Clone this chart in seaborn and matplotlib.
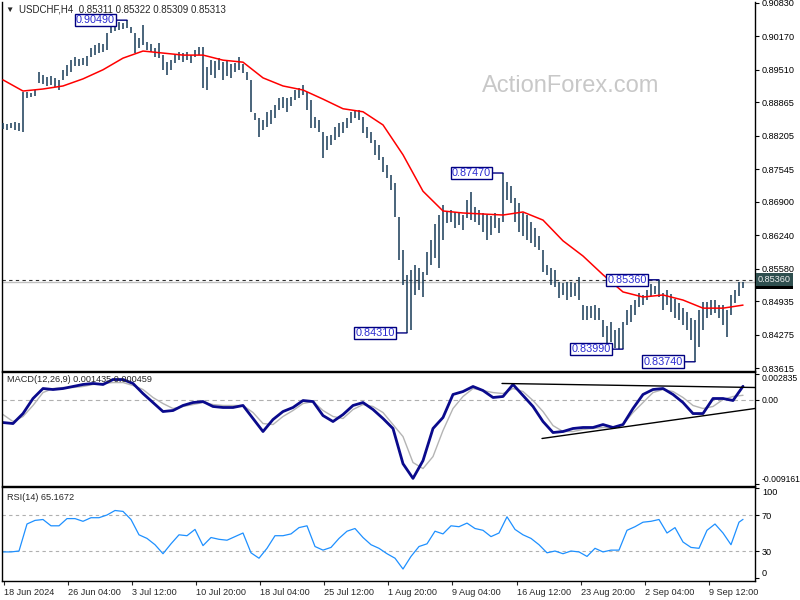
import numpy as np
import pandas as pd
import matplotlib
matplotlib.use("Agg")
import matplotlib.pyplot as plt
import matplotlib.transforms as mtransforms
import seaborn as sns

sns.set_style("white")
plt.rcParams['font.family'] = ['Liberation Sans', 'DejaVu Sans']

symbol = "USDCHF,H4"
last_ohlc = [0.85311, 0.85322, 0.85309, 0.85313]

# H4 bars (every second bar, high / low)
bar_high = [0.8846, 0.8844, 0.8846, 0.8848, 0.8846, 0.8907, 0.8907, 0.8905, 0.8911,
            0.8947, 0.8941, 0.8937, 0.8939, 0.8935, 0.8931, 0.8951, 0.8960, 0.8970, 0.8976,
            0.8972, 0.8974, 0.8978, 0.8994, 0.9000, 0.9004, 0.9002, 0.9024, 0.9040, 0.9043,
            0.9045, 0.9043, 0.9049, 0.9036, 0.9024, 0.9014, 0.9040, 0.9006, 0.9002, 0.8994,
            # 158 .. 302
            0.9004, 0.8980, 0.8966, 0.8970, 0.8980, 0.8986, 0.8984, 0.8986, 0.8980, 0.8990,
            0.8996, 0.8996, 0.8957, 0.8970, 0.8968, 0.8974, 0.8966, 0.8970, 0.8962, 0.8964,
            0.8976, 0.8962, 0.8947, 0.8931, 0.8866, 0.8856, 0.8852, 0.8868, 0.8872, 0.8881,
            0.8895, 0.8897, 0.8895, 0.8897, 0.8911, 0.8915, 0.8921,
            # 306 .. 450
            0.8907, 0.8891, 0.8858, 0.8852, 0.8828, 0.8820, 0.8822, 0.8838, 0.8846, 0.8848,
            0.8856, 0.8868, 0.8872, 0.8872, 0.8858, 0.8838, 0.8828, 0.8812, 0.8802, 0.8779,
            0.8763, 0.8743, 0.8727, 0.8660, 0.8595, 0.8546, 0.8555, 0.8565, 0.8559, 0.8551,
            0.8591, 0.8615, 0.8646, 0.8664, 0.8684, 0.8670, 0.8674,
            # 454 .. 602
            0.8670, 0.8668, 0.8664, 0.8694, 0.8710, 0.8680, 0.8674, 0.8668, 0.8664, 0.8662,
            0.8668, 0.8658, 0.8747, 0.8729, 0.8721, 0.8698, 0.8688, 0.8668, 0.8664, 0.8650,
            0.8638, 0.8623, 0.8595, 0.8565, 0.8559, 0.8555, 0.8532, 0.8530, 0.8532, 0.8532,
            0.8530, 0.8542, 0.8486, 0.8484, 0.8484, 0.8486, 0.8480, 0.8457,
            # 606 .. 742
            0.8445, 0.8453, 0.8437, 0.8441, 0.8453, 0.8476, 0.8486, 0.8496, 0.8510, 0.8506,
            0.8516, 0.8528, 0.8524, 0.8536, 0.8510, 0.8516, 0.8508, 0.8498, 0.8490, 0.8480,
            0.8472, 0.8461, 0.8457, 0.8476, 0.8492, 0.8492, 0.8496, 0.8496, 0.8486, 0.8486,
            0.8476, 0.8506, 0.8516, 0.8532, 0.8532]
bar_low = [0.8834, 0.8832, 0.8836, 0.8832, 0.8830, 0.8828, 0.8895, 0.8897, 0.8899,
           0.8925, 0.8923, 0.8919, 0.8921, 0.8917, 0.8911, 0.8931, 0.8939, 0.8947, 0.8959,
           0.8959, 0.8961, 0.8959, 0.8976, 0.8980, 0.8984, 0.8986, 0.8990, 0.9024, 0.9028,
           0.9030, 0.9032, 0.9034, 0.9024, 0.8984, 0.8994, 0.9000, 0.8990, 0.8986, 0.8976,
           0.8974, 0.8951, 0.8941, 0.8951, 0.8964, 0.8970, 0.8966, 0.8970, 0.8964, 0.8976,
           0.8980, 0.8915, 0.8911, 0.8941, 0.8935, 0.8951, 0.8931, 0.8939, 0.8935, 0.8947,
           0.8951, 0.8945, 0.8931, 0.8868, 0.8852, 0.8818, 0.8832, 0.8838, 0.8844, 0.8856,
           0.8872, 0.8876, 0.8868, 0.8879, 0.8891, 0.8895, 0.8901,
           0.8872, 0.8836, 0.8836, 0.8828, 0.8777, 0.8793, 0.8802, 0.8812, 0.8818, 0.8826,
           0.8836, 0.8846, 0.8856, 0.8852, 0.8826, 0.8816, 0.8806, 0.8783, 0.8773, 0.8749,
           0.8737, 0.8714, 0.8660, 0.8575, 0.8526, 0.8431, 0.8437, 0.8506, 0.8516, 0.8502,
           0.8546, 0.8565, 0.8579, 0.8559, 0.8615, 0.8648, 0.8650,
           0.8638, 0.8644, 0.8634, 0.8658, 0.8654, 0.8650, 0.8644, 0.8630, 0.8615, 0.8625,
           0.8638, 0.8628, 0.8650, 0.8694, 0.8688, 0.8650, 0.8630, 0.8623, 0.8615, 0.8609,
           0.8601, 0.8595, 0.8551, 0.8546, 0.8526, 0.8522, 0.8500, 0.8506, 0.8496, 0.8502,
           0.8504, 0.8496, 0.8457, 0.8457, 0.8461, 0.8457, 0.8457, 0.8423,
           0.8407, 0.8413, 0.8401, 0.8399, 0.8399, 0.8447, 0.8453, 0.8466, 0.8482, 0.8486,
           0.8496, 0.8504, 0.8508, 0.8502, 0.8476, 0.8486, 0.8472, 0.8461, 0.8457, 0.8447,
           0.8437, 0.8417, 0.8374, 0.8403, 0.8437, 0.8461, 0.8466, 0.8470, 0.8461, 0.8447,
           0.8423, 0.8466, 0.8490, 0.8504, 0.8520]

# red moving average, one value every 5 bars of the list above
ma_values = [0.8931, 0.8909, 0.8913, 0.8919, 0.8933, 0.8951, 0.8974, 0.8988, 0.8984, 0.8980,
             0.8980, 0.8970, 0.8966, 0.8935, 0.8919, 0.8911, 0.8893, 0.8874, 0.8868, 0.8842,
             0.8783, 0.8711, 0.8672, 0.8668, 0.8666, 0.8664, 0.8670, 0.8654, 0.8613, 0.8583,
             0.8546, 0.8512, 0.8502, 0.8506, 0.8496, 0.8480, 0.8480, 0.8486]

# MACD(12,26,9), one value every 2.5 bars
macd_main = [-0.00251, -0.00262, -0.00153, 0.00011, 0.00120, 0.00109, 0.00120, 0.00142, 0.00164, 0.00175,
             0.00164, 0.00218, 0.00218, 0.00175, 0.00065, -0.00033, -0.00131, -0.00120, -0.00065, -0.00033,
             -0.00022, -0.00076, -0.00087, -0.00087, -0.00065, -0.00207, -0.00349, -0.00218, -0.00131, -0.00087,
             -0.00011, -0.00022, -0.00175, -0.00240, -0.00164, -0.00065, -0.00033, -0.00109, -0.00207, -0.00316,
             -0.00700, -0.00860, -0.00666, -0.00316, -0.00196, 0.00055, 0.00087, 0.00142, 0.00098, 0.00022,
             0.00033, 0.00164, 0.00044, -0.00076, -0.00240, -0.00360, -0.00349, -0.00316, -0.00305, -0.00305,
             -0.00273, -0.00305, -0.00273, -0.00098, 0.00055, 0.00109, 0.00120, 0.00055, -0.00033, -0.00153,
             -0.00153, 0.00011, 0.00011, -0.00011, 0.00144]
macd_signal = [-0.00164, -0.00240, -0.00185, -0.00065, 0.00076, 0.00120, 0.00131, 0.00131, 0.00142, 0.00164,
               0.00175, 0.00185, 0.00185, 0.00153, 0.00109, 0.00022, -0.00044, -0.00098, -0.00076, -0.00055,
               -0.00033, -0.00055, -0.00065, -0.00065, -0.00065, -0.00142, -0.00262, -0.00273, -0.00185, -0.00120,
               -0.00044, -0.00022, -0.00120, -0.00185, -0.00207, -0.00109, -0.00055, -0.00076, -0.00142, -0.00273,
               -0.00404, -0.00687, -0.00753, -0.00622, -0.00338, -0.00098, 0.00033, 0.00120, 0.00098, 0.00076,
               0.00065, 0.00120, 0.00087, -0.00011, -0.00131, -0.00284, -0.00349, -0.00349, -0.00327, -0.00316,
               -0.00305, -0.00305, -0.00273, -0.00142, -0.00033, 0.00076, 0.00109, 0.00087, 0.00022, -0.00065,
               -0.00098, -0.00076, 0.00000, 0.00033, 0.00046]
macd_last = [0.001435, 0.000459]

# RSI(14), one value every 2 bars, plus the last bar
rsi_values = [29, 29, 30, 60, 64, 65, 58, 58, 66, 66,
              63, 67, 67, 70, 75, 74, 65, 48, 44, 37,
              27, 38, 48, 47, 54, 36, 45, 43, 42, 46,
              50, 28, 22, 33, 47, 47, 49, 56, 58, 35,
              31, 34, 44, 52, 55, 45, 37, 33, 27, 22,
              10, 24, 35, 38, 52, 49, 58, 57, 61, 55,
              53, 46, 50, 68, 54, 48, 44, 37, 28, 30,
              27, 30, 29, 24, 33, 29, 31, 31, 53, 57,
              62, 63, 65, 50, 56, 40, 34, 33, 53, 60,
              50, 37, 62, 65.1672]

price_ticks = [0.90830, 0.90170, 0.89510, 0.88865, 0.88205, 0.87545,
               0.86900, 0.86240, 0.85580, 0.84935, 0.84275, 0.83615]
macd_ticks = [-0.009161, 0.0, 0.002835]
macd_tick_labels = ["-0.009161", "0.00", "0.002835"]
rsi_ticks = [0, 30, 70, 100]
time_labels = ["18 Jun 2024", "26 Jun 04:00", "3 Jul 12:00", "10 Jul 20:00",
               "18 Jul 04:00", "25 Jul 12:00", "1 Aug 20:00", "9 Aug 04:00",
               "16 Aug 12:00", "23 Aug 20:00", "2 Sep 04:00", "9 Sep 12:00"]

level_price = 0.85360
label_bars = [31, 101, 125, 155, 164, 173]
label_side = ["high", "low", "high", "low", "high", "low"]

# hand drawn trendlines on the MACD window (bar, value)
trend_upper_x = [124.75, 188]
trend_upper_y = [0.00175, 0.00131]
trend_lower_x = [134.75, 188]
trend_lower_y = [-0.00425, -0.00098]

#%%
W, H = 800, 600
fs = 6.6
fig = plt.figure(figsize=(8, 6), dpi=100)

def panel(top, bottom):
    return [2 / W, 1 - bottom / H, 753 / W, (bottom - top) / H]

ax_p = fig.add_axes(panel(2, 371))
ax_m = fig.add_axes(panel(372, 486))
ax_r = fig.add_axes(panel(487, 581))

bars = pd.DataFrame({"i": np.arange(len(bar_high)), "high": bar_high, "low": bar_low})
ax_p.vlines(bars["i"], bars["low"], bars["high"], color="#173b57", lw=1.1, zorder=3)
sns.lineplot(x=np.arange(len(ma_values)) * 5, y=ma_values, ax=ax_p, color="#ff0000", lw=1.1, zorder=4)

ax_p.axhline(level_price, color="#303030", lw=0.8, ls=(0, (3, 3)), zorder=2)
ax_p.axhline(last_ohlc[3], color="#c0c0c0", lw=1.0, zorder=1)
ax_p.set_ylim(0.83558, 0.90849)
ax_p.set_yticks(price_ticks)
ax_p.set_yticklabels(["%.5f" % t for t in price_ticks])

for i, side in zip(label_bars, label_side):
    v = bars["high"][i] if side == "high" else bars["low"][i]
    ax_p.annotate("%.5f" % v, xy=(i, v), xytext=(-12, 0), textcoords="offset pixels",
                  ha="right", va="center", fontsize=7.8, color="#2a2ad0", zorder=6,
                  bbox=dict(boxstyle="square,pad=0.12", fc="white", ec="#000080", lw=1),
                  arrowprops=dict(arrowstyle="-", color="#000080", lw=1, shrinkA=0, shrinkB=0))

trans = mtransforms.blended_transform_factory(ax_p.transAxes, ax_p.transData)
ax_p.text(1.004, last_ohlc[3], "%.5f" % last_ohlc[3], transform=trans, ha="left", va="center",
          fontsize=fs, color="white", clip_on=False,
          bbox=dict(boxstyle="square,pad=0.2", fc="black", ec="none"))
ax_p.text(1.004, level_price, "%.5f" % level_price, transform=trans, ha="left", va="center",
          fontsize=fs, color="#f0f0f0", clip_on=False,
          bbox=dict(boxstyle="square,pad=0.2", fc="#2f4f4f", ec="none"))

ax_p.text(571 / W, 1 - 86 / H, "ActionForex.com", transform=fig.transFigure, fontsize=17,
          color="#c8c8c8", ha="center", va="center", zorder=0)
fig.text(9.5 / W, 1 - 10.5 / H, "▼", fontsize=6, ha="center", va="center")
fig.text(19 / W, 1 - 10 / H, symbol + "  " + " ".join("%.5f" % v for v in last_ohlc),
         fontsize=7, va="center")

# MACD
mx = np.arange(len(macd_main)) * 2.5
ax_m.axhline(0, color="#b0b0b0", lw=0.8, ls=(0, (4, 3)))
sns.lineplot(x=mx, y=macd_signal, ax=ax_m, color="#b4b4b4", lw=1.0)
sns.lineplot(x=mx, y=macd_main, ax=ax_m, color="#0a0a8c", lw=2.0)
ax_m.plot(trend_upper_x, trend_upper_y, color="black", lw=1)
ax_m.plot(trend_lower_x, trend_lower_y, color="black", lw=1)
ax_m.set_ylim(-0.00943, 0.0030)
ax_m.set_yticks(macd_ticks)
ax_m.set_yticklabels(macd_tick_labels)
fig.text(7 / W, 1 - 380 / H, "MACD(12,26,9) %.6f %.6f" % tuple(macd_last), fontsize=fs, va="center")

# RSI
rx = list(range(0, len(bar_high), 2)) + [len(bar_high) - 1]
for lvl in (30, 70):
    ax_r.axhline(lvl, color="#b0b0b0", lw=0.8, ls=(0, (3, 3)))
sns.lineplot(x=rx, y=rsi_values, ax=ax_r, color="#1e90ff", lw=0.9)
ax_r.set_ylim(-3.3, 101.1)
ax_r.set_yticks(rsi_ticks)
ax_r.set_yticklabels([str(t) for t in rsi_ticks])
fig.text(7 / W, 1 - 497 / H, "RSI(14) %.4f" % rsi_values[-1], fontsize=fs, va="center")

for ax in (ax_p, ax_m, ax_r):
    ax.set_xlim(-0.25, 188)
    ax.set_xlabel("")
    ax.set_ylabel("")
    ax.yaxis.tick_right()
    ax.tick_params(axis="y", direction="out", length=3, width=0.8, labelsize=fs, pad=2, colors="black")
    for s in ax.spines.values():
        s.set_color("black")
        s.set_linewidth(1)
ax_p.spines["top"].set_visible(False)
ax_p.set_xticks([])
ax_m.set_xticks([])
ax_m.tick_params(axis="y", labelsize=6.2, pad=1.5)

ml = ax_m.get_yticklabels()
ml[0].set_va("bottom")
ml[2].set_va("top")
rl = ax_r.get_yticklabels()
rl[0].set_va("bottom")
rl[3].set_va("top")

ax_r.set_xticks(np.arange(len(time_labels)) * 16.03 + 0.15)
ax_r.set_xticklabels(time_labels, ha="left", fontsize=fs)
ax_r.tick_params(axis="x", direction="out", length=3, width=0.8, pad=2, bottom=True)

fig.savefig("out.png", dpi=100)
